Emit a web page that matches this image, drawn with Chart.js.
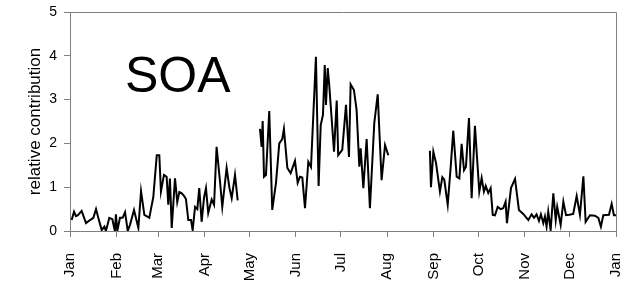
<!DOCTYPE html>
<html>
<head>
<meta charset="utf-8">
<script src="https://cdn.jsdelivr.net/npm/chart.js@4"></script>
<style>
html,body{margin:0;padding:0;background:#fff;}
#wrap{position:relative;width:635px;height:282px;}
#soa{position:absolute;left:125px;top:45px;font-family:"Liberation Sans",Arial,sans-serif;font-size:50px;color:#000;line-height:60px;}
</style>
</head>
<body>
<div id="wrap">
<canvas id="c" width="635" height="282"></canvas>
<div id="soa">SOA</div>
</div>
<script>
// day of year
const days = [
1.1,2.7,4,5.3,7.8,10.7,13.4,15.6,17.4,18.9,21.2,23,24,26.3,28.3,30,30.7,31.6,33.4,35.2,36.8,38.6,40.1,42.8,45.7,47.5,49.7,51.7,53,55.7,58,59.7,60.8,62.8,64.6,65.7,66.8,68,70.2,71.7,73.1,74.7,76.2,77.5,79.1,80.9,82,83.6,85.1,86.4,88,89.6,90.9,92.4,94.7,96.3,98,100.3,101.8,104.7,106.5,108.1,110.3,112.1,
120,
127,128.1,128.8,129.7,131,133.2,135.2,137.7,139.9,141.9,143,145.3,147.5,150.4,152.2,153.7,155.3,157.1,159.3,161.1,164.4,166.2,167.6,169.1,170.3,171.1,172.3,173.3,176.5,178.3,179.3,182,184.5,186.5,187.6,189.8,191.6,193.4,194.3,196.1,198.3,200.5,203.4,205.7,208.3,210.6,212.8,
225,
240.6,241.3,242.9,244.7,247.3,248.9,250.2,252.5,254.5,256.2,258.5,260.3,261.8,263.4,264.7,266.7,268.5,270.7,273.6,275.2,276.7,277.9,279.6,281.2,282.6,284.1,285.9,287.9,289.6,291.2,292.1,294.8,297.5,300.1,303,306.4,308.6,310.2,311.9,313.5,314.8,316.4,317.5,318.6,319.7,321.3,323.1,324.7,325.7,328,329.8,331.6,333.8,336.4,338.7,340.9,343.2,344.7,347.6,350.9,353.2,354.9,356.5,360.3,362.1,363.6,365.4
];
const soa = [
0.25,0.44,0.34,0.36,0.46,0.18,0.25,0.3,0.5,0.3,0.02,0.1,0.0,0.3,0.27,0.0,0.38,0.0,0.3,0.3,0.43,0.0,0.14,0.48,0.07,0.91,0.37,0.33,0.3,0.78,1.73,1.73,0.9,1.28,1.24,0.6,1.2,0.07,1.2,0.66,0.89,0.86,0.8,0.73,0.25,0.25,0.02,0.55,0.5,0.98,0.21,0.76,0.98,0.41,0.72,0.6,1.92,1.12,0.55,1.44,1.0,0.75,1.28,0.7,
null,
2.33,1.92,2.51,1.24,1.28,2.74,0.48,1.1,2.0,2.1,2.33,1.44,1.32,1.6,1.1,1.24,1.22,0.52,1.58,1.46,3.98,1.03,2.42,2.65,3.79,2.88,3.72,3.33,1.81,2.98,1.73,1.85,2.88,1.69,3.35,3.22,2.76,1.47,1.89,0.98,2.1,0.52,2.46,3.12,1.16,1.96,1.73,
null,
1.83,1.0,1.81,1.55,0.9,1.23,1.17,0.6,1.47,2.29,1.24,1.2,1.99,1.39,1.47,2.58,0.75,2.4,0.9,1.21,0.9,1.03,0.87,0.98,0.37,0.36,0.55,0.5,0.52,0.67,0.18,0.98,1.19,0.48,0.39,0.25,0.38,0.3,0.38,0.23,0.38,0.18,0.33,0.1,0.44,0.02,0.86,0.25,0.55,0.14,0.67,0.36,0.37,0.39,0.8,0.37,1.25,0.21,0.36,0.35,0.3,0.1,0.36,0.37,0.62,0.36,0.36
];
const monthStarts = [0,31,59,90,120,151,181,212,243,273,304,334,365];
const monthLabels = ['Jan','Feb','Mar','Apr','May','Jun','Jul','Aug','Sep','Oct','Nov','Dec','Jan'];
const yTicks = [0,1,2,3,4,5];

const points = days.map((d,i)=>({x:d,y:soa[i]}));
const FONT = '"Liberation Sans", Arial, sans-serif';

const frame = {
  id:'frame',
  afterDraw(chart){
    const a = chart.chartArea, ctx = chart.ctx;
    ctx.save();
    ctx.strokeStyle = '#808080';
    ctx.lineWidth = 1;
    ctx.beginPath();
    ctx.moveTo(a.left, a.top+0.5);
    ctx.lineTo(a.right+0.5, a.top+0.5);
    ctx.lineTo(a.right+0.5, a.bottom);
    ctx.stroke();
    ctx.restore();
  }
};

new Chart(document.getElementById('c'), {
  type:'line',
  data:{datasets:[{data:points,borderColor:'#000',borderWidth:2,pointRadius:0,tension:0,spanGaps:false,fill:false}]},
  options:{
    responsive:false,
    animation:false,
    events:[],
    layout:{padding:{left:0,right:19,top:12,bottom:0}},
    plugins:{legend:{display:false},tooltip:{enabled:false}},
    scales:{
      x:{
        type:'linear',min:0,max:365,
        afterBuildTicks(s){ s.ticks = monthStarts.map(v=>({value:v})); },
        afterFit(s){ s.height = 51; s.paddingLeft = 0; s.paddingRight = 0; },
        ticks:{autoSkip:false,minRotation:90,maxRotation:90,padding:16,color:'#000',font:{family:FONT,size:15},
          callback(v,i){ return monthLabels[i]; }},
        grid:{drawOnChartArea:false,drawTicks:true,tickLength:6,color:'#808080'},
        border:{color:'#808080',width:1}
      },
      y:{
        min:0,max:5,
        afterBuildTicks(s){ s.ticks = yTicks.map(v=>({value:v})); },
        afterFit(s){ s.width = 70; s.paddingTop = 0; s.paddingBottom = 0; },
        ticks:{padding:7,color:'#000',font:{family:FONT,size:14}},
        grid:{drawOnChartArea:false,drawTicks:true,tickLength:6,color:'#808080'},
        border:{color:'#808080',width:1},
        title:{display:true,text:'relative contribution',color:'#000',font:{family:FONT,size:17},padding:{top:25,bottom:0}}
      }
    }
  },
  plugins:[frame]
});
</script>
</body>
</html>
